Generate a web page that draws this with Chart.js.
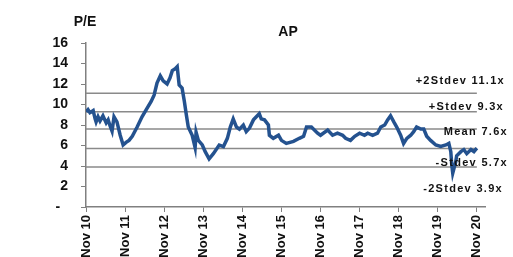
<!DOCTYPE html>
<html>
<head>
<meta charset="utf-8">
<script src="https://cdn.jsdelivr.net/npm/chart.js@4.4.1/dist/chart.umd.min.js"></script>
<style>
  html, body { margin:0; padding:0; background:#fff; overflow:hidden; }
  #wrap { position:relative; width:513px; height:259px; }
</style>
</head>
<body>
<div id="wrap"><canvas id="peChart"></canvas></div>
<script>
// months since Nov 10
const months = [0,0.6,1.2,2.2,2.8,3.1,3.7,4.3,5.2,6.2,6.8,7.4,8.0,8.6,9.5,10.5,11.4,12.3,13.2,14.2,
  15.7,17.2,18.5,20.0,20.9,21.8,22.8,23.7,24.9,25.8,26.5,27.4,28.0,28.6,29.5,30.2,30.8,31.4,32.6,33.5,
  33.8,34.5,35.7,36.6,37.8,39.1,40.9,42.2,43.4,44.3,45.2,46.2,47.1,48.3,49.2,50.2,51.4,52.3,53.2,53.8,
  54.8,56.0,56.3,57.5,59.1,60.0,61.5,63.7,65.5,66.8,67.7,69.2,71.1,72.0,74.2,75.7,77.2,78.8,79.7,81.2,
  82.5,84.0,85.5,86.5,88.0,89.5,90.5,91.7,92.6,93.5,94.5,95.4,96.6,97.5,98.5,99.7,100.6,101.5,102.8,103.7,
  104.6,105.8,107.4,108.9,110.5,111.4,112.0,112.3,112.6,113.5,113.8,115.1,116.0,116.9,118.2,119.1,120.0];
const peValues = [9.3,9.5,9.2,9.4,8.6,8.3,8.8,8.4,8.9,8.2,8.5,7.9,7.4,8.8,8.3,7.0,6.05,6.3,6.5,6.9,
  7.8,8.8,9.5,10.3,10.9,12.1,12.8,12.3,12.0,12.6,13.3,13.5,13.7,11.9,11.6,10.3,9.0,7.8,7.0,5.8,
  7.3,6.5,6.05,5.4,4.7,5.2,6.05,5.9,6.7,7.8,8.6,7.8,7.6,8.0,7.35,7.7,8.5,8.8,9.1,8.6,
  8.5,8.0,7.0,6.7,7.0,6.5,6.2,6.4,6.7,6.9,7.8,7.8,7.2,7.0,7.5,7.0,7.2,7.0,6.7,6.5,
  6.9,7.2,7.0,7.2,7.0,7.2,7.8,8.0,8.5,8.9,8.3,7.8,7.0,6.2,6.7,7.0,7.35,7.8,7.6,7.6,
  6.9,6.5,6.05,5.9,6.05,6.2,5.4,4.1,3.3,4.4,5.0,5.4,5.6,5.2,5.6,5.4,5.75];

const stdLevels = [11.1, 9.3, 7.6, 5.7, 3.9];
const stdLabels = ['+2Stdev 11.1x', '+Stdev 9.3x', 'Mean 7.6x', '-Stdev 5.7x', '-2Stdev 3.9x'];
const xTickLabels = ['Nov 10','Nov 11','Nov 12','Nov 13','Nov 14','Nov 15','Nov 16','Nov 17','Nov 18','Nov 19','Nov 20'];

const FONT = "'Liberation Sans', Arial, sans-serif";

const stdSets = stdLevels.map(v => ({
  data: [{ x: 0, y: v }, { x: 120, y: v }],
  borderColor: '#8a8a8a', borderWidth: 1.5, pointRadius: 0, order: 2
}));

// label positions (right edge x, centre y) next to each band line
const labelSpots = [[505, 81], [504, 107], [508, 132], [508, 163], [503, 189]];

const textPlugin = {
  id: 'textPlugin',
  afterDraw(chart) {
    const ctx = chart.ctx;
    ctx.save();
    ctx.fillStyle = '#111';
    ctx.textBaseline = 'middle';
    ctx.font = 'bold 14px ' + FONT;
    ctx.textAlign = 'center';
    ctx.fillText('P/E', 85, 22);
    ctx.fillText('AP', 288, 32);
    ctx.font = 'bold 11px ' + FONT;
    ctx.letterSpacing = '1.3px';
    ctx.textAlign = 'right';
    stdLabels.forEach((t, i) => ctx.fillText(t, labelSpots[i][0], labelSpots[i][1]));
    ctx.restore();
  }
};

new Chart(document.getElementById('peChart'), {
  type: 'line',
  data: {
    datasets: [
      { data: months.map((m, i) => ({ x: m, y: peValues[i] })),
        borderColor: '#24528f', borderWidth: 3.5, pointRadius: 0, tension: 0, order: 1 },
      ...stdSets
    ]
  },
  options: {
    responsive: true, maintainAspectRatio: false, animation: false,
    layout: { padding: { top: 43, right: 28, left: 0, bottom: 0 } },
    plugins: { legend: { display: false }, tooltip: { enabled: false } },
    scales: {
      x: {
        type: 'linear', min: 0, max: 122.5,
        afterBuildTicks: s => { s.ticks = xTickLabels.map((_, i) => ({ value: i * 12 })); },
        afterFit: s => { s.height = 52; },
        grid: { drawOnChartArea: false, tickLength: 5, color: '#808080' },
        border: { color: '#808080', width: 1.5 },
        ticks: {
          minRotation: 90, maxRotation: 90, padding: 3, color: '#111', autoSkip: false,
          font: { family: FONT, size: 13, weight: 'bold' },
          callback: v => xTickLabels[Math.round(v / 12)]
        }
      },
      y: {
        min: 0, max: 16,
        afterFit: s => { s.width = 86; },
        grid: { drawOnChartArea: false, tickLength: 5, color: '#808080' },
        border: { color: '#808080', width: 1.5 },
        ticks: {
          stepSize: 2, padding: 13, color: '#111',
          font: { family: FONT, size: 14, weight: 'bold' },
          callback: v => v === 0 ? '-  ' : v
        }
      }
    }
  },
  plugins: [textPlugin]
});
</script>
</body>
</html>
